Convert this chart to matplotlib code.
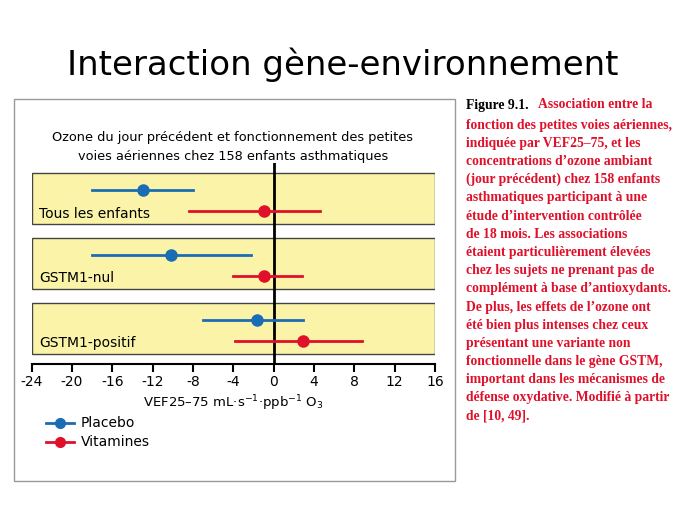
import matplotlib
matplotlib.use("Agg")
import matplotlib.pyplot as plt
from matplotlib.patches import Rectangle

groups = ["Tous les enfants", "GSTM1-nul", "GSTM1-positif"]
placebo = [-13.0, -10.2, -1.7]
placebo_lo = [-18.0, -18.0, -7.0]
placebo_hi = [-8.0, -2.2, 2.9]
vit = [-1.0, -1.0, 2.9]
vit_lo = [-8.4, -4.0, -3.8]
vit_hi = [4.6, 2.8, 8.8]
xticks = list(range(-24, 17, 4))

BLUE = "#1a6db5"
RED = "#e0102a"
W, H = 689, 517
fig = plt.figure(figsize=(W/100, H/100), dpi=100)
fig.patch.set_facecolor("white")

def fx(px): return px / W
def fy(py): return 1 - py / H

fig.text(fx(343), fy(65), "Interaction gène-environnement", ha="center", va="center",
         fontsize=24.5, family="DejaVu Sans")
fig.patches.append(Rectangle((fx(14), fy(481)), fx(455-14), (481-99)/H,
                             transform=fig.transFigure, fill=False, ec="#999999", lw=1))
fig.text(fx(233), fy(137), "Ozone du jour précédent et fonctionnement des petites",
         ha="center", va="center", fontsize=9.3)
fig.text(fx(233), fy(156), "voies aériennes chez 158 enfants asthmatiques",
         ha="center", va="center", fontsize=9.3)

ax = fig.add_axes([fx(31.7), fy(364), fx(435-31.7), (364-163)/H])
ax.set_xlim(-24, 16)
ax.set_ylim(2.55, -0.55)
for i, g in enumerate(groups):
    ax.add_patch(Rectangle((-24, i - 0.39), 40, 0.78, fc="#fbf4a8", ec="#444444", lw=1, zorder=1))
    ax.text(-23.3, i + 0.23, g, fontsize=10, va="center", ha="left", zorder=4)
ax.axvline(0, color="black", lw=2, zorder=2)
for i in range(len(groups)):
    ax.plot([placebo_lo[i], placebo_hi[i]], [i - 0.13] * 2, color=BLUE, lw=2, zorder=3)
    ax.plot(placebo[i], i - 0.13, "o", color=BLUE, ms=8, zorder=4)
    ax.plot([vit_lo[i], vit_hi[i]], [i + 0.19] * 2, color=RED, lw=2, zorder=3)
    ax.plot(vit[i], i + 0.19, "o", color=RED, ms=8, zorder=4)
for s in ["top", "right", "left"]:
    ax.spines[s].set_visible(False)
ax.spines["bottom"].set_linewidth(1.5)
ax.set_yticks([])
ax.set_xticks(xticks)
ax.set_xticklabels([str(t) for t in xticks], fontsize=10)
ax.tick_params(axis="x", length=6, width=1.5, pad=2)
ax.patch.set_alpha(0)
fig.text(fx(233), fy(403), "VEF25–75 mL·s$^{-1}$·ppb$^{-1}$ O$_3$", ha="center", va="center", fontsize=9.5)

for py, c, lab in [(423, BLUE, "Placebo"), (442, RED, "Vitamines")]:
    fig.lines.append(plt.Line2D([fx(46), fx(74)], [fy(py)] * 2, color=c, lw=2, transform=fig.transFigure))
    fig.lines.append(plt.Line2D([fx(60)], [fy(py)], color=c, marker="o", ms=7, transform=fig.transFigure))
    fig.text(fx(81), fy(py), lab, va="center", fontsize=10)

cap = ["fonction des petites voies aériennes,",
       "indiquée par VEF25–75, et les",
       "concentrations d’ozone ambiant",
       "(jour précédent) chez 158 enfants",
       "asthmatiques participant à une",
       "étude d’intervention contrôlée",
       "de 18 mois. Les associations",
       "étaient particulièrement élevées",
       "chez les sujets ne prenant pas de",
       "complément à base d’antioxydants.",
       "De plus, les effets de l’ozone ont",
       "été bien plus intenses chez ceux",
       "présentant une variante non",
       "fonctionnelle dans le gène GSTM,",
       "important dans les mécanismes de",
       "défense oxydative. Modifié à partir",
       "de [10, 49]."]
font = dict(family="Liberation Serif", fontweight="bold", fontsize=9.8, va="center", ha="left")
fig.text(fx(466), fy(105), "Figure 9.1.", color="black", **font)
fig.text(fx(538), fy(105), "Association entre la", color=RED, **font)
for k, line in enumerate(cap):
    fig.text(fx(466), fy(125 + k * 18.2), line, color=RED, **font)

fig.savefig("out.png", dpi=100)
